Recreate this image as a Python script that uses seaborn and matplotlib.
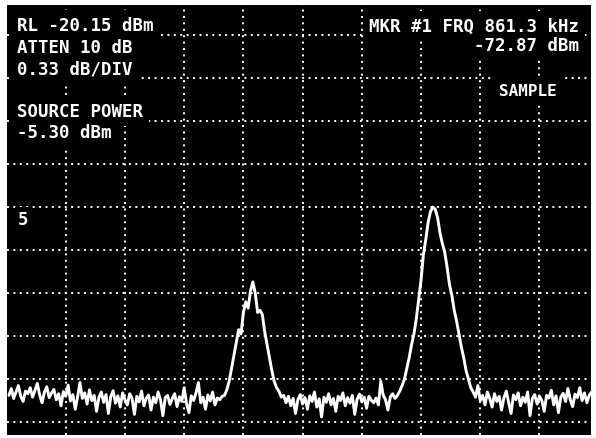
import numpy as np
import matplotlib
matplotlib.use("Agg")
import matplotlib.pyplot as plt
import seaborn as sns

# trace levels in divisions above the bottom graticule line, one per display bin
floor_left = [0.62, 0.78, 0.55, 0.70, 0.85, 0.60, 0.48, 0.72, 0.66, 0.80,
              0.58, 0.74, 0.90, 0.63, 0.45, 0.70, 0.82, 0.57, 0.68, 0.76,
              0.52, 0.66, 0.38, 0.71, 0.60, 0.86, 0.49, 0.64, 0.30, 0.58,
              0.92, 0.55, 0.68, 0.42, 0.75, 0.50, 0.62, 0.25, 0.57, 0.70,
              0.46, 0.64, 0.20, 0.59, 0.73, 0.44, 0.61, 0.35, 0.68, 0.52,
              0.40, 0.66, 0.55, 0.18, 0.60, 0.47, 0.72, 0.38, 0.56, 0.63,
              0.28, 0.58, 0.45, 0.70, 0.52, 0.15, 0.57, 0.62, 0.41, 0.55,
              0.66, 0.36, 0.59, 0.48, 0.80, 0.43, 0.22, 0.61, 0.50, 0.68,
              0.92, 0.45, 0.58, 0.30, 0.63, 0.49, 0.70, 0.40, 0.56, 0.52,
              0.60]
peak_small = [0.62, 0.75, 0.95, 1.25, 1.55, 1.85, 2.15, 2.05, 2.55, 2.80,
              2.65, 3.05, 3.26, 3.00, 2.55, 2.60, 2.50, 2.10, 1.80, 1.50,
              1.20, 0.95, 0.80, 0.72, 0.58, 0.62]
floor_mid = [0.45, 0.60, 0.38, 0.55, 0.20, 0.52, 0.64, 0.42, 0.57, 0.30,
             0.61, 0.48, 0.70, 0.35, 0.54, 0.12, 0.58, 0.46, 0.66, 0.40,
             0.55, 0.25, 0.60, 0.50, 0.68, 0.38, 0.57, 0.44, 0.62, 0.18,
             0.53, 0.65, 0.47, 0.58, 0.32, 0.60, 0.51, 0.45, 0.56, 0.40,
             0.95, 0.63, 0.52, 0.28, 0.58, 0.66, 0.55]
peak_big = [0.62, 0.72, 0.85, 1.00, 1.25, 1.50, 1.80, 2.05, 2.40, 2.85,
            3.30, 3.90, 4.25, 4.65, 4.90, 5.00, 4.95, 4.75, 4.40, 4.15,
            3.95, 3.60, 3.20, 2.95, 2.60, 2.35, 2.05, 1.75, 1.50, 1.20,
            1.00, 0.80, 0.70, 0.58]
floor_right = [0.85, 0.50, 0.62, 0.40, 0.70, 0.55, 0.35, 0.66, 0.48, 0.60,
               0.28, 0.57, 0.72, 0.45, 0.20, 0.63, 0.52, 0.68, 0.38, 0.58,
               0.46, 0.70, 0.15, 0.55, 0.64, 0.42, 0.60, 0.50, 0.25, 0.62,
               0.56, 0.74, 0.40, 0.61, 0.22, 0.58, 0.67, 0.48, 0.78, 0.52,
               0.36, 0.65, 0.57, 0.80, 0.50, 0.68, 0.45, 0.62, 0.70]

level = floor_left + peak_small + floor_mid + peak_big + floor_right
freq = np.linspace(0.04, 9.88, len(level))  # display bins, in divisions

left_texts = ["RL -20.15 dBm", "ATTEN 10 dB", "0.33 dB/DIV"]
source_texts = ["SOURCE POWER", "-5.30 dBm"]
marker_texts = ["MKR #1 FRQ 861.3 kHz", "-72.87 dBm"]
mode_text = "SAMPLE"
line_label = "5"

sns.set_theme(style="dark")
plt.rcParams['font.family'] = ['DejaVu Sans Mono', 'DejaVu Sans']

W, H = 596, 439
fig = plt.figure(figsize=(W / 100, H / 100), dpi=100, facecolor="white")
ax = fig.add_axes([7 / W, 3 / H, 584 / W, 430 / H])
ax.set_facecolor("black")

sns.lineplot(x=freq, y=level, ax=ax, color="white", linewidth=2.1,
             estimator=None, sort=False)

ax.set_xlim(0.008, 9.87)
ax.set_ylim(-0.30, 9.70)
ax.set_xticks(range(1, 10))
ax.set_yticks(range(0, 10))
ax.set_xticklabels([])
ax.set_yticklabels([])
ax.tick_params(length=0)
ax.grid(True, color="white", linestyle=(0, (1, 2.3)), linewidth=1.4)
for s in ax.spines.values():
    s.set_visible(False)


def px_text(x, y, s, size=12.5, ha="left", pad=4):
    kw = dict(fontsize=size, fontweight="bold", ha=ha, va="center")
    # black box first (blanks the graticule), then the white text on top
    fig.text(x / W, 1 - y / H, s, color="black", zorder=3,
             bbox=dict(facecolor="black", edgecolor="none", pad=pad), **kw)
    fig.text(x / W, 1 - y / H, s, color="white", zorder=4, **kw)


for i, t in enumerate(left_texts):
    px_text(17, 26 + i * 22, t)
for i, t in enumerate(source_texts):
    px_text(17, 112 + i * 21, t)
px_text(579, 27, marker_texts[0], ha="right")
px_text(579, 46, marker_texts[1], ha="right")
px_text(499, 91, mode_text, size=11.5, pad=5)
px_text(18, 220, line_label, pad=2)

fig.savefig("out.png", dpi=100, facecolor="white")
